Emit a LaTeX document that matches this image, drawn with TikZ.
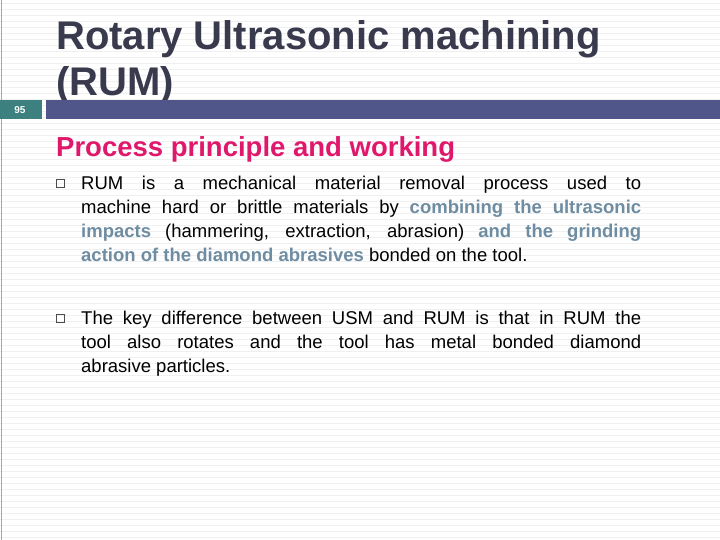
\documentclass[tikz,border=0pt]{standalone}
\usepackage{fontspec}
\setmainfont{Liberation Sans}
\definecolor{titlec}{HTML}{3A3A4E}
\definecolor{headc}{HTML}{E0186C}
\definecolor{hl}{HTML}{6E8CA2}
\definecolor{teal}{HTML}{3C8080}
\definecolor{barc}{HTML}{50558A}
\definecolor{stripe}{HTML}{F0F0F0}
\tikzset{body/.style={anchor=north west,text width=560pt,align=justify,inner sep=0pt,font=\fontsize{18.5}{24}\selectfont},
bul/.style={draw=black!70,line width=0.6pt,minimum size=8pt,inner sep=0pt}}
\begin{document}
\begin{tikzpicture}[x=1pt,y=-1pt]
\useasboundingbox (0,0) rectangle (720,540);
\fill[white] (0,0) rectangle (720,540);
\foreach \i in {3,9,...,537} \draw[stripe,line width=0.6pt] (0,\i) -- (720,\i);
\draw[gray!70,line width=1pt] (1.5,0) -- (1.5,540);
\node[anchor=west,inner sep=0pt,text=titlec,font=\fontsize{40}{46}\selectfont\bfseries,align=left] (title) at (56,62) {Rotary Ultrasonic machining\\(RUM)};
\fill[teal] (0,100) rectangle (42,119);
\node[text=white,font=\fontsize{10}{12}\selectfont\bfseries] (num) at (20,110) {95};
\fill[barc] (46,100) rectangle (720,119);
\node[anchor=west,inner sep=0pt,text=headc,font=\fontsize{27.5}{32}\selectfont\bfseries] (head) at (56,149) {Process principle and working};
\node[bul] (b1) at (60,183) {};
\node[body] (t1) at (81,176) {\hyphenpenalty=10000\relax RUM is a mechanical material removal process used to\linebreak machine hard or brittle materials by \textcolor{hl}{\bfseries combining the ultrasonic}\linebreak \textcolor{hl}{\bfseries impacts} (hammering, extraction, abrasion) \textcolor{hl}{\bfseries and the grinding}\linebreak \textcolor{hl}{\bfseries action of the diamond abrasives} bonded on the tool.};
\node[bul] (b2) at (60,318) {};
\node[body] (t2) at (81,311) {\hyphenpenalty=10000\relax The key difference between USM and RUM is that in RUM the\linebreak tool also rotates and the tool has metal bonded diamond\linebreak abrasive particles.};
\end{tikzpicture}
\end{document}
